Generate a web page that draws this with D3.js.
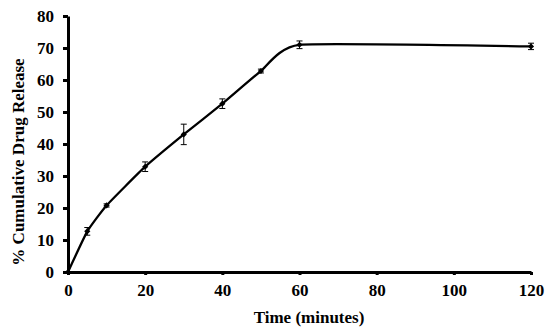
<!DOCTYPE html>
<html>
<head>
<meta charset="utf-8">
<script src="https://cdn.jsdelivr.net/npm/d3@7"></script>
<style>
  html, body { margin: 0; padding: 0; background: #fff; }
  svg { display: block; }
  text { font-family: "Liberation Serif", "Times New Roman", serif; font-weight: bold; fill: #000; }
</style>
</head>
<body>
<svg id="chart" width="550" height="329"></svg>
<script>
const times = [0, 5, 10, 20, 30, 40, 50, 60, 120];
const release = [0, 12.7, 20.8, 32.9, 43.0, 52.6, 62.8, 71.0, 70.5];
const errors = [0, 1.2, 0.5, 1.5, 3.2, 1.5, 0.6, 1.2, 1.0];
const xTicks = [0, 20, 40, 60, 80, 100, 120];
const yTicks = [0, 10, 20, 30, 40, 50, 60, 70, 80];
const xLabel = "Time (minutes)";
const yLabel = "% Cumulative Drug Release";

const svg = d3.select("#chart");
const margin = { left: 68, right: 19, top: 16, bottom: 57 };
const W = 550, H = 329;
const x = d3.scaleLinear().domain([0, 120]).range([margin.left, W - margin.right]);
const y = d3.scaleLinear().domain([0, 80]).range([H - margin.bottom, margin.top]);

const data = times.map((t, i) => ({ t, v: release[i], e: errors[i] }));

// line
const line = d3.line().x(d => x(d.t)).y(d => y(d.v)).curve(d3.curveCardinal.tension(0.55));
svg.append("path").datum(data).attr("d", line)
  .attr("fill", "none").attr("stroke", "#000").attr("stroke-width", 2.3);

// error bars
const eb = svg.append("g").attr("stroke", "#000").attr("stroke-width", 1);
data.filter(d => d.e > 0).forEach(d => {
  eb.append("line").attr("x1", x(d.t)).attr("x2", x(d.t)).attr("y1", y(d.v - d.e)).attr("y2", y(d.v + d.e));
  eb.append("line").attr("x1", x(d.t) - 3).attr("x2", x(d.t) + 3).attr("y1", y(d.v - d.e)).attr("y2", y(d.v - d.e));
  eb.append("line").attr("x1", x(d.t) - 3).attr("x2", x(d.t) + 3).attr("y1", y(d.v + d.e)).attr("y2", y(d.v + d.e));
});

// markers (diamonds)
svg.append("g").selectAll("path").data(data).join("path")
  .attr("transform", d => `translate(${x(d.t)},${y(d.v)})`)
  .attr("d", d3.symbol(d3.symbolDiamond2, 24))
  .attr("fill", "#000");

// axes
const xAxis = d3.axisBottom(x).tickValues(xTicks).tickSize(3).tickPadding(9).tickSizeOuter(0);
const gx = svg.append("g").attr("transform", `translate(0,${y(0)})`).call(xAxis);
gx.select(".domain").attr("stroke-width", 3);
gx.selectAll(".tick line").attr("stroke-width", 3);
gx.selectAll("text").style("font-size", "17px");

const yAxis = d3.axisLeft(y).tickValues(yTicks).tickSize(5).tickPadding(9).tickSizeOuter(0);
const gy = svg.append("g").attr("transform", `translate(${x(0)},0)`).call(yAxis);
gy.select(".domain").attr("stroke-width", 3);
gy.selectAll(".tick line").attr("stroke-width", 3);
gy.selectAll("text").style("font-size", "17px");

// axis titles
svg.append("text").attr("x", 309).attr("y", 323).attr("text-anchor", "middle")
  .style("font-size", "17px").text(xLabel);
svg.append("text").attr("transform", "translate(24,162) rotate(-90)").attr("text-anchor", "middle")
  .style("font-size", "17px").text(yLabel);
</script>
</body>
</html>
